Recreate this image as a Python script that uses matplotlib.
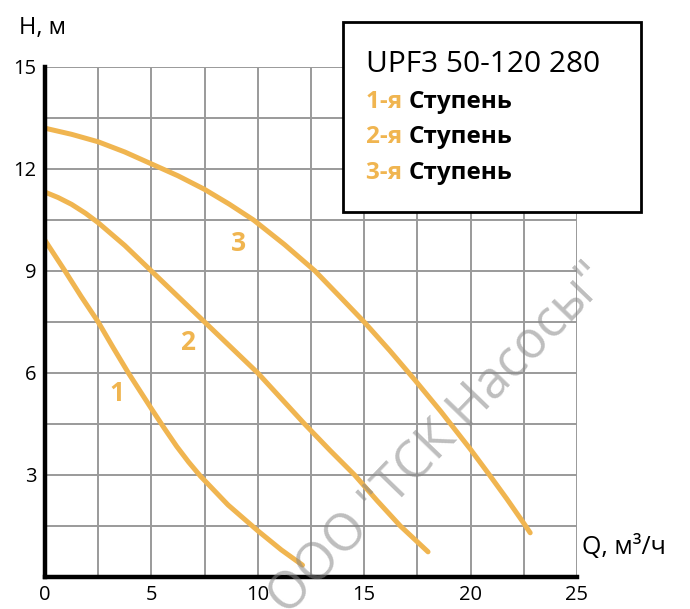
import matplotlib
matplotlib.use("Agg")
import matplotlib.pyplot as plt
from matplotlib.patches import Rectangle

plt.rcParams['font.family'] = ['Open Sans', 'DejaVu Sans']

# performance curves (Q in m3/h, H in m)
q1 = [0, 0.94, 1.7, 2.5, 3.2, 3.92, 5.0, 5.6, 6.19, 6.75, 7.3, 8.6, 10.0, 11.1, 12.1]
h1 = [9.9, 9.0, 8.25, 7.5, 6.75, 6.0, 4.95, 4.38, 3.84, 3.38, 2.97, 2.12, 1.36, 0.8, 0.35]

q2 = [0, 0.62, 1.25, 1.9, 2.5, 3.75, 5.0, 6.25, 7.5, 8.75, 10.0, 11.1, 12.2, 13.4,
      14.55, 15.6, 16.7, 18.0]
h2 = [11.32, 11.16, 10.96, 10.7, 10.42, 9.75, 9.0, 8.25, 7.5, 6.75, 6.0, 5.25, 4.5, 3.72,
      3.0, 2.25, 1.5, 0.74]

q3 = [0, 1.25, 2.5, 3.75, 5.0, 6.25, 7.5, 8.65, 9.8, 11.25, 12.69, 13.85, 15.0,
      16.2, 17.4, 18.6, 20.0, 20.83, 21.7, 22.5, 22.8]
h3 = [13.2, 13.02, 12.8, 12.5, 12.15, 11.8, 11.4, 10.97, 10.5, 9.78, 9.0, 8.25, 7.5,
      6.66, 5.78, 4.87, 3.75, 3.05, 2.3, 1.58, 1.3]

curve_labels = ['1', '2', '3']
label_q = [3.38, 6.72, 9.07]
label_h = [5.41, 6.91, 9.82]

xticks = [0, 5, 10, 15, 20, 25]
yticks = [3, 6, 9, 12, 15]

orange = '#F0B550'

fig = plt.figure(figsize=(6.9, 6.09), dpi=100)
ax = fig.add_axes([45/690, 1-577/609, 532/690, 510/609])

ax.set_xlim(0, 25)
ax.set_ylim(0, 15)
for v in [i * 2.5 for i in range(1, 11)]:
    ax.axvline(v, color='#9a9a9a', lw=1.4, zorder=1)
for v in [i * 1.5 for i in range(1, 11)]:
    ax.axhline(v, color='#9a9a9a', lw=1.4, zorder=1)

for q, h in [(q1, h1), (q2, h2), (q3, h3)]:
    ax.plot(q, h, color=orange, lw=3.6, solid_capstyle='round',
            solid_joinstyle='round', zorder=3)

for t, x, y in zip(curve_labels, label_q, label_h):
    ax.text(x, y, t, color=orange, fontsize=19, fontweight='bold',
            ha='center', va='center', zorder=4)

for s in ['top', 'right']:
    ax.spines[s].set_visible(False)
for s in ['left', 'bottom']:
    ax.spines[s].set_linewidth(3.2)
    ax.spines[s].set_zorder(5)

ax.set_xticks(xticks)
ax.set_yticks(yticks)
ax.tick_params(length=0, labelsize=14.5, pad=6)

fig.text(19/690, 1-28/609, 'H, м', fontsize=17, va='center', ha='left')
fig.text(582/690, 1-548/609, 'Q, м³/ч', fontsize=18, va='center', ha='left')

# legend box
fig.patches.append(Rectangle((343/690, 1-212/609), 298/690, 190/609,
                             transform=fig.transFigure, facecolor='white',
                             edgecolor='black', lw=2, zorder=10))
fig.text(366/690, 1-72/609, 'UPF3 50-120 280', fontsize=21.5,
         va='baseline', ha='left', zorder=11)

fig.canvas.draw()
renderer = fig.canvas.get_renderer()
for i, base in enumerate([108, 143, 179]):
    t1 = fig.text(366/690, 1-base/609, f'{i+1}-я ', fontsize=17.5,
                  fontweight='bold', color=orange, va='baseline', ha='left', zorder=11)
    bb = t1.get_window_extent(renderer)
    fig.text(bb.x1/690, 1-base/609, 'Ступень', fontsize=17.5,
             fontweight='bold', color='black', va='baseline', ha='left', zorder=11)

# watermark
fig.text(440/690, 1-440/609, 'ООО "ТСК Насосы"', fontsize=37, color='#888888',
         alpha=0.55, rotation=46, ha='center', va='center', zorder=20)

fig.savefig('out.png', dpi=100)
